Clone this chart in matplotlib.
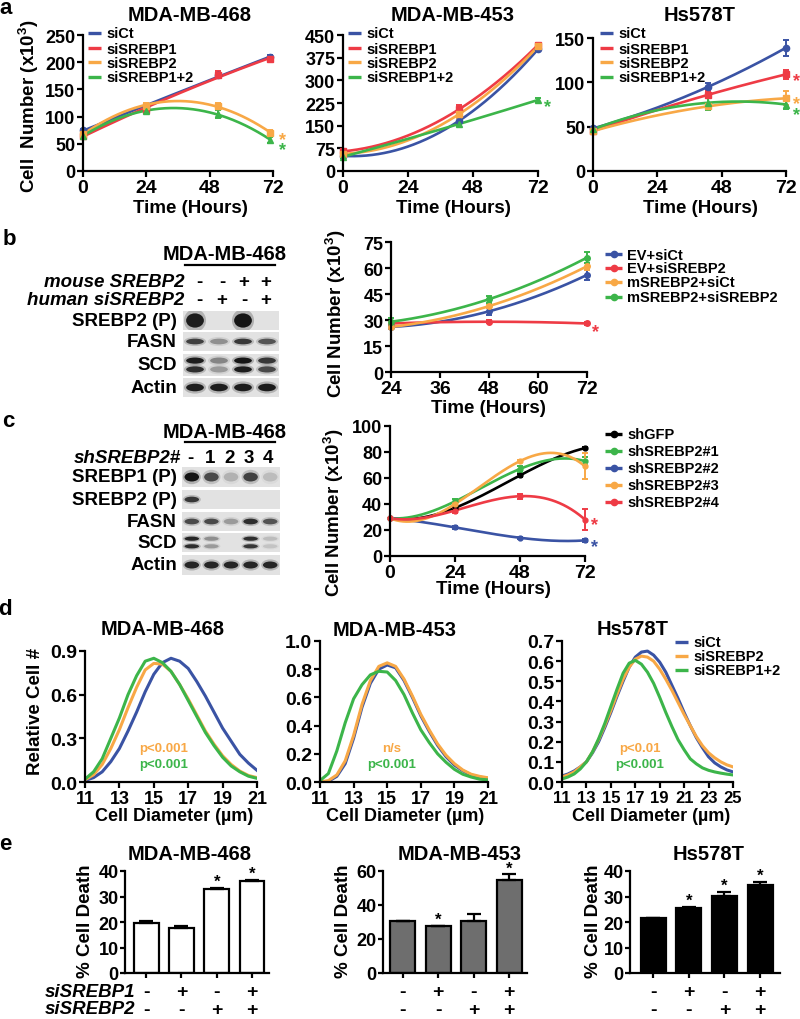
import numpy as np
import matplotlib
matplotlib.use('Agg')
import matplotlib.pyplot as plt
from matplotlib.patches import Ellipse
from matplotlib.transforms import blended_transform_factory

plt.rcParams['font.family'] = ['Liberation Sans', 'DejaVu Sans']
plt.rcParams['font.weight'] = 'bold'
plt.rcParams['mathtext.fontset'] = 'custom'
plt.rcParams['mathtext.rm'] = 'Liberation Sans:bold'
plt.rcParams['mathtext.bf'] = 'Liberation Sans:bold'
plt.rcParams['mathtext.it'] = 'Liberation Sans:bold:italic'

BLUE, RED, ORANGE, GREEN = '#3a53a4', '#ee3b45', '#f8a846', '#3cb54a'

# ------------------------------------------------------------------ data
# panel a : cell number (x10^3) vs time
a_labels = ['siCt', 'siSREBP1', 'siSREBP2', 'siSREBP1+2']
a_titles = ['MDA-MB-468', 'MDA-MB-453', 'Hs578T']
a468_t = [0, 24, 51, 71]
a468_siCt = [75, 118, 176, 209]
a468_siSREBP1 = [65, 112, 177, 206]
a468_siSREBP2 = [68, 120, 120, 70]
a468_siSREBP12 = [65, 110, 105, 57]
a468_err = [[3, 3, 5, 4], [3, 3, 6, 4], [3, 5, 5, 5], [3, 4, 7, 5]]
a453_t = [0, 43, 72]
a453_siCt = [50, 167, 403]
a453_siSREBP1 = [65, 205, 417]
a453_siSREBP2 = [57, 189, 412]
a453_siSREBP12 = [47, 156, 235]
a453_err = [[4, 10, 6], [4, 14, 6], [4, 12, 6], [3, 8, 6]]
aHs_t = [0, 43, 72]
aHs_siCt = [48, 95, 139]
aHs_siSREBP1 = [45, 86, 109]
aHs_siSREBP2 = [45, 73, 82]
aHs_siSREBP12 = [47, 77, 75]
aHs_err = [[2, 4, 9], [2, 4, 5], [2, 3, 8], [2, 8, 5]]
a468_yticks = [0, 50, 100, 150, 200, 250]
a453_yticks = [0, 75, 150, 225, 300, 375, 450]
aHs_yticks = [0, 50, 100, 150]
a_xticks = [0, 24, 48, 72]
# significance stars: (series index, x, y)
a468_stars = [(2, 75.5, 69), (3, 75.5, 50)]
a453_stars = [(3, 75.5, 232)]
aHs_stars = [(1, 76, 109), (2, 76, 83), (3, 76, 70)]

# panel b
b_labels = ['EV+siCt', 'EV+siSREBP2', 'mSREBP2+siCt', 'mSREBP2+siSREBP2']
b_t = [24, 48, 72]
b_EV_siCt = [26, 35, 56]
b_EV_siSREBP2 = [28, 29, 28]
b_m_siCt = [26, 38, 61]
b_m_siSREBP2 = [29, 42, 66]
b_err = [[1, 2, 3], [1, 1, 1], [1, 1, 2], [2, 2, 3]]
b_xticks = [24, 36, 48, 60, 72]
b_yticks = [0, 15, 30, 45, 60, 75]
b_stars = [(1, 74, 27)]
b_blot_labels = ['SREBP2 (P)', 'FASN', 'SCD', 'Actin']
b_mouse_SREBP2 = ['-', '-', '+', '+']
b_human_siSREBP2 = ['-', '+', '-', '+']
b_band_SREBP2 = [0.95, 0.0, 1.0, 0.0]
b_band_FASN = [0.75, 0.35, 0.8, 0.65]
b_band_SCD_upper = [0.95, 0.4, 1.0, 0.8]
b_band_SCD_lower = [0.85, 0.3, 0.95, 0.7]
b_band_Actin = [0.95, 0.95, 0.95, 0.95]

# panel c
c_labels = ['shGFP', 'shSREBP2#1', 'shSREBP2#2', 'shSREBP2#3', 'shSREBP2#4']
c_t = [0, 24, 48, 72]
c_shGFP = [29, 37, 62, 83]
c_sh1 = [29, 42, 67, 73]
c_sh2 = [29, 22, 14, 12]
c_sh3 = [29, 40, 73, 69]
c_sh4 = [29, 35, 46, 28]
c_err = [[0, 1, 1, 1], [0, 2, 2, 3], [0, 1, 1, 1], [0, 1, 1, 10], [0, 2, 2, 8]]
c_xticks = [0, 24, 48, 72]
c_yticks = [0, 20, 40, 60, 80, 100]
c_stars = [(4, 75.5, 28.5), (2, 75.5, 12)]
c_blot_labels = ['SREBP1 (P)', 'SREBP2 (P)', 'FASN', 'SCD', 'Actin']
c_lanes = ['-', '1', '2', '3', '4']
c_band_SREBP1 = [1.0, 0.7, 0.2, 0.75, 0.15]
c_band_SREBP2 = [0.8, 0.0, 0.0, 0.0, 0.0]
c_band_FASN = [0.7, 0.7, 0.3, 0.85, 0.65]
c_band_SCD_upper = [0.9, 0.35, 0.0, 0.85, 0.15]
c_band_SCD_lower = [0.85, 0.3, 0.0, 0.8, 0.12]
c_band_Actin = [0.9, 0.9, 0.9, 0.9, 0.9]

# panel d : relative cell # vs diameter
d_labels = ['siCt', 'siSREBP2', 'siSREBP1+2']
d_x21 = [11, 11.5, 12, 12.5, 13, 13.5, 14, 14.5, 15, 15.5, 16, 16.5, 17, 17.5,
         18, 18.5, 19, 19.5, 20, 20.5, 21]
d_x25 = [11, 11.5, 12, 12.5, 13, 13.5, 14, 14.5, 15, 15.5, 16, 16.5, 17, 17.5,
         18, 18.5, 19, 19.5, 20, 20.5, 21, 21.5, 22, 22.5, 23, 23.5, 24, 24.5, 25]
d468_siCt = [0.01, 0.03, 0.07, 0.14, 0.23, 0.35, 0.48, 0.62, 0.74, 0.82, 0.85,
             0.83, 0.78, 0.69, 0.59, 0.48, 0.37, 0.28, 0.19, 0.13, 0.08]
d468_siSREBP2 = [0.015, 0.05, 0.12, 0.23, 0.36, 0.51, 0.65, 0.77, 0.815, 0.81, 0.76,
                 0.67, 0.57, 0.46, 0.35, 0.26, 0.18, 0.12, 0.075, 0.045, 0.03]
d468_siSREBP12 = [0.02, 0.07, 0.16, 0.30, 0.44, 0.60, 0.73, 0.83, 0.85, 0.82, 0.76,
                  0.67, 0.56, 0.45, 0.34, 0.25, 0.17, 0.11, 0.07, 0.04, 0.025]
d453_siCt = [0.0, 0.005, 0.04, 0.13, 0.31, 0.53, 0.70, 0.80, 0.83, 0.81, 0.72,
             0.60, 0.47, 0.36, 0.26, 0.18, 0.12, 0.08, 0.05, 0.035, 0.025]
d453_siSREBP2 = [0.0, 0.01, 0.05, 0.15, 0.33, 0.55, 0.72, 0.82, 0.845, 0.82, 0.73,
                 0.61, 0.48, 0.37, 0.27, 0.19, 0.13, 0.085, 0.055, 0.04, 0.03]
d453_siSREBP12 = [0.01, 0.06, 0.22, 0.42, 0.59, 0.69, 0.76, 0.785, 0.78, 0.72, 0.62,
                  0.49, 0.37, 0.28, 0.20, 0.14, 0.09, 0.055, 0.035, 0.02, 0.015]
dHs_siCt = [0.03, 0.04, 0.055, 0.075, 0.10, 0.145, 0.20, 0.27, 0.345, 0.425, 0.50,
            0.57, 0.62, 0.645, 0.65, 0.63, 0.595, 0.545, 0.48, 0.415, 0.345, 0.28,
            0.22, 0.17, 0.125, 0.095, 0.075, 0.06, 0.05]
dHs_siSREBP2 = [0.025, 0.035, 0.05, 0.075, 0.10, 0.15, 0.21, 0.28, 0.355, 0.435, 0.51,
                0.57, 0.61, 0.625, 0.62, 0.60, 0.56, 0.51, 0.455, 0.395, 0.335, 0.28,
                0.225, 0.18, 0.145, 0.12, 0.10, 0.085, 0.075]
dHs_siSREBP12 = [0.015, 0.025, 0.04, 0.065, 0.10, 0.15, 0.215, 0.29, 0.375, 0.46, 0.54,
                 0.59, 0.604, 0.585, 0.545, 0.49, 0.42, 0.345, 0.275, 0.21, 0.16, 0.115,
                 0.09, 0.07, 0.058, 0.05, 0.044, 0.039, 0.035]
d468_yticks = [0.0, 0.3, 0.6, 0.9]
d453_yticks = [0.0, 0.2, 0.4, 0.6, 0.8, 1.0]
dHs_yticks = [0.0, 0.1, 0.2, 0.3, 0.4, 0.5, 0.6, 0.7]
d21_xticks = [11, 13, 15, 17, 19, 21]
d25_xticks = [11, 13, 15, 17, 19, 21, 23, 25]
d_pvals = [('p<0.001', 'p<0.001'), ('n/s', 'p<0.001'), ('p<0.01', 'p<0.001')]

# panel e : % cell death
e_titles = ['MDA-MB-468', 'MDA-MB-453', 'Hs578T']
e468 = [19.5, 17.5, 33.0, 36.0]
e468_err = [0.7, 1.0, 0.3, 0.5]
e453 = [30.5, 27.5, 30.5, 54.5]
e453_err = [0.3, 0.3, 4.0, 3.5]
eHs = [21.5, 25.5, 30.3, 34.5]
eHs_err = [0.2, 0.3, 1.6, 1.3]
e468_sig = [False, False, True, True]
e453_sig = [False, True, False, True]
eHs_sig = [False, True, True, True]
e_siSREBP1 = ['-', '+', '-', '+']
e_siSREBP2 = ['-', '-', '+', '+']
e468_yticks = [0, 10, 20, 30, 40]
e453_yticks = [0, 20, 40, 60]
eHs_yticks = [0, 10, 20, 30, 40]

# ------------------------------------------------------------------ figure
W, H = 800, 1020
fig = plt.figure(figsize=(W / 100, H / 100), dpi=100)


def px_axes(l, t, r, b):
    return fig.add_axes([l / W, 1 - b / H, (r - l) / W, (b - t) / H])


def style(ax, xfs=14, yfs=13, tl=4):
    for s in ('top', 'right'):
        ax.spines[s].set_visible(False)
    for s in ('left', 'bottom'):
        ax.spines[s].set_linewidth(1.6)
    ax.tick_params(width=1.6, length=tl, pad=1.5)
    ax.tick_params(axis='x', labelsize=xfs)
    ax.tick_params(axis='y', labelsize=yfs)
    ax.patch.set_alpha(0)


ov = fig.add_axes([0, 0, 1, 1])
ov.set_xlim(0, W)
ov.set_ylim(H, 0)
ov.axis('off')
ov.set_zorder(10)


def T(x, y, s, fs=13.5, ha='center', va='baseline', **kw):
    ov.text(x, y, s, fontsize=fs, ha=ha, va=va, fontweight='bold', **kw)


def legend_px(x0, x1, xt, ys, labels, colors, fs, marker=False):
    for y, lab, c in zip(ys, labels, colors):
        ov.plot([x0, x1], [y, y], color=c, lw=2.4, solid_capstyle='butt')
        if marker:
            ov.plot([(x0 + x1) / 2], [y], 'o', color=c, ms=4.5)
        ov.text(xt, y + 0.5, lab, fontsize=fs, ha='left', va='center', fontweight='bold')


def growth(ax, t, series, errs, colors, markers, deg, ms=4.5):
    tt = np.linspace(t[0], t[-1], 300)
    for y, e, c, m in zip(series, errs, colors, markers):
        coef = np.polyfit(t, y, deg)
        ax.plot(tt, np.polyval(coef, tt), color=c, lw=1.9, clip_on=False)
        cont = ax.errorbar(t, y, yerr=e, fmt=m, color=c, ms=ms, capsize=2.5,
                           elinewidth=1.4, capthick=1.4)
        for art in cont.get_children():
            art.set_clip_on(False)


def star(ax, x, y, c, fs=13):
    ax.annotate('*', xy=(x, y), xytext=(0, -7.5), textcoords='offset points',
                ha='center', va='baseline', color=c, fontsize=fs,
                fontweight='bold', annotation_clip=False)


# ---------------- panel a
T(6, 14, 'a', fs=16)
a_colors = [BLUE, RED, ORANGE, GREEN]
a_markers = ['o', 's', 's', '^']
a_specs = [
    (px_axes(83, 36, 273, 172), a468_t,
     [a468_siCt, a468_siSREBP1, a468_siSREBP2, a468_siSREBP12], a468_err,
     a468_yticks, a468_stars, 190, (88, 101, 106)),
    (px_axes(343, 36, 538, 172), a453_t,
     [a453_siCt, a453_siSREBP1, a453_siSREBP2, a453_siSREBP12], a453_err,
     a453_yticks, a453_stars, 453, (348, 361, 366)),
    (px_axes(593, 39, 786, 172), aHs_t,
     [aHs_siCt, aHs_siSREBP1, aHs_siSREBP2, aHs_siSREBP12], aHs_err,
     aHs_yticks, aHs_stars, 700, (600, 613, 618)),
]
for k, (ax, t, ser, err, yt, stars, cx, lg) in enumerate(a_specs):
    growth(ax, t, ser, err, a_colors, a_markers, 2)
    ax.set_xlim(0, 72)
    ax.set_ylim(yt[0], yt[-1])
    ax.set_xticks(a_xticks)
    ax.set_yticks(yt)
    style(ax)
    for si, sx, sy in stars:
        star(ax, sx, sy, a_colors[si])
    T(cx, 21, a_titles[k], fs=14.5)
    T(cx, 213, 'Time (Hours)', fs=13.5)
    legend_px(lg[0], lg[1], lg[2], [34, 49, 63, 78], a_labels, a_colors, 10.5)
T(29, 106, r'Cell  Number (x10$^{3}$)', fs=13.5, va='center', rotation=90)

# ---------------- blots
def blot_row(l, t, r, b, bands, h):
    ax = px_axes(l, t, r, b)
    n = len(bands[0])
    ax.set_xlim(0, n)
    ax.set_ylim(0, 1)
    ax.set_xticks([])
    ax.set_yticks([])
    for s in ax.spines.values():
        s.set_visible(False)
    ax.set_facecolor('#e2e2e2')
    ys = [0.5] if len(bands) == 1 else [0.7, 0.3]
    for yc, vals in zip(ys, bands):
        for i, v in enumerate(vals):
            if v <= 0:
                continue
            ax.add_patch(Ellipse((i + 0.5, yc), 0.92, h * 1.6, color='black',
                                 alpha=0.22 * v, lw=0))
            ax.add_patch(Ellipse((i + 0.5, yc), 0.74, h, color='black',
                                 alpha=0.88 * v, lw=0))
    return ax


# panel b blot
T(9, 245, 'b', fs=16)
T(225, 260, 'MDA-MB-468', fs=14.5)
ov.plot([185, 275], [266, 266], color='black', lw=1.6)
T(184, 287, 'mouse SREBP2', fs=13.5, ha='right', style='italic')
T(184, 305, 'human siSREBP2', fs=13.5, ha='right', style='italic')
for xs, s1, s2 in zip([199, 222, 244, 266], b_mouse_SREBP2, b_human_siSREBP2):
    T(xs, 287, s1, fs=13.5)
    T(xs, 305, s2, fs=13.5)
b_rows_px = [(312, 331), (333, 352), (355, 377), (379, 398)]
b_bands = [([b_band_SREBP2], 0.75), ([b_band_FASN], 0.3),
           ([b_band_SCD_upper, b_band_SCD_lower], 0.28), ([b_band_Actin], 0.4)]
for (t, b), (bands, h), lab in zip(b_rows_px, b_bands, b_blot_labels):
    blot_row(183, t, 279, b, bands, h)
    T(177, (t + b) / 2, lab, fs=13.5, ha='right', va='center')

# panel b chart
axb = px_axes(391, 243, 587, 373)
b_colors = [BLUE, RED, ORANGE, GREEN]
growth(axb, b_t, [b_EV_siCt, b_EV_siSREBP2, b_m_siCt, b_m_siSREBP2], b_err,
       b_colors, ['o'] * 4, 2, ms=4)
axb.set_xlim(24, 72)
axb.set_ylim(0, 75)
axb.set_xticks(b_xticks)
axb.set_yticks(b_yticks)
style(axb)
for si, sx, sy in b_stars:
    star(axb, sx, sy, b_colors[si])
T(336, 314, r'Cell Number (x10$^{3}$)', fs=13.5, va='center', rotation=90)
T(488, 413, 'Time (Hours)', fs=13.5)
legend_px(605, 622, 627, [255, 269, 283, 298], b_labels, b_colors, 10.5, marker=True)

# panel c blot
T(8, 427, 'c', fs=16)
T(225, 438, 'MDA-MB-468', fs=14.5)
ov.plot([185, 275], [443, 443], color='black', lw=1.6)
T(181, 463, 'shSREBP2#', fs=13.5, ha='right', style='italic')
for xs, s in zip([190, 210, 230, 249, 268], c_lanes):
    T(xs, 463, s, fs=13.5)
c_rows_px = [(468, 488), (491, 510), (513, 532), (534, 553), (556, 576)]
c_bands = [([c_band_SREBP1], 0.45), ([c_band_SREBP2], 0.3), ([c_band_FASN], 0.3),
           ([c_band_SCD_upper, c_band_SCD_lower], 0.22), ([c_band_Actin], 0.35)]
for (t, b), (bands, h), lab in zip(c_rows_px, c_bands, c_blot_labels):
    blot_row(182, t, 280, b, bands, h)
    T(177, (t + b) / 2, lab, fs=13.5, ha='right', va='center')

# panel c chart
axc = px_axes(390, 427, 585, 557)
c_colors = ['black', GREEN, BLUE, ORANGE, RED]
growth(axc, c_t, [c_shGFP, c_sh1, c_sh2, c_sh3, c_sh4], c_err, c_colors,
       ['o'] * 5, 3, ms=3.5)
axc.set_xlim(0, 72)
axc.set_ylim(0, 100)
axc.set_xticks(c_xticks)
axc.set_yticks(c_yticks)
style(axc)
for si, sx, sy in c_stars:
    star(axc, sx, sy, c_colors[si])
T(334, 513, r'Cell Number (x10$^{3}$)', fs=13.5, va='center', rotation=90)
T(493, 594, 'Time (Hours)', fs=13.5)
legend_px(605, 622, 627, [435, 452, 469, 486, 503], c_labels, c_colors, 10.5, marker=True)

# ---------------- panel d
T(5, 615, 'd', fs=16)
d_colors = [BLUE, ORANGE, GREEN]
d_specs = [
    (px_axes(85, 652, 257, 783), d_x21, [d468_siCt, d468_siSREBP2, d468_siSREBP12],
     d468_yticks, d21_xticks, 163, 635, 164, 174),
    (px_axes(320, 642, 488, 783), d_x21, [d453_siCt, d453_siSREBP2, d453_siSREBP12],
     d453_yticks, d21_xticks, 395, 636, 392, 405),
    (px_axes(562, 642, 733, 783), d_x25, [dHs_siCt, dHs_siSREBP2, dHs_siSREBP12],
     dHs_yticks, d25_xticks, 633, 635, 640, 651),
]
for k, (ax, xs, ser, yt, xt, tx, ty, px_, lx) in enumerate(d_specs):
    for y, c in zip(ser, d_colors):
        ax.plot(xs, y, color=c, lw=2.2)
    ax.set_xlim(xs[0], xs[-1])
    ax.set_ylim(yt[0], yt[-1])
    ax.set_xticks(xt)
    ax.set_yticks(yt)
    ax.set_yticklabels([f'{v:.1f}' for v in yt])
    style(ax, xfs=13 if k < 2 else 12, yfs=14)
    T(tx, ty, a_titles[k], fs=14.5)
    T(px_, 749, d_pvals[k][0], fs=9.5, color=ORANGE, va='center')
    T(px_, 765, d_pvals[k][1], fs=9.5, color=GREEN, va='center')
    T(lx, 821, 'Cell Diameter (µm)', fs=13)
T(35, 711, 'Relative Cell #', fs=13.5, va='center', rotation=90)
legend_px(675, 688, 693, [643, 657, 671], d_labels, d_colors, 10.5)

# ---------------- panel e
T(5, 850, 'e', fs=16)
e_specs = [
    (px_axes(125, 872, 269, 974), e468, e468_err, e468_sig, 'white', e468_yticks,
     (-0.6, 3.48), 190, 86),
    (px_axes(383, 872, 527, 974), e453, e453_err, e453_sig, '#6e6e6e', e453_yticks,
     (-0.55, 3.5), 460, 343),
    (px_axes(630, 872, 780, 974), eHs, eHs_err, eHs_sig, 'black', eHs_yticks,
     (-0.65, 3.56), 709, 594),
]
for k, (ax, vals, errs, sig, col, yt, xl, tx, ylx) in enumerate(e_specs):
    x = np.arange(len(vals))
    ax.bar(x, vals, width=0.7, color=col, edgecolor='black', linewidth=1.6, zorder=2)
    eb = ax.errorbar(x, vals, yerr=[np.zeros(len(vals)), errs], fmt='none',
                     ecolor='black', elinewidth=1.6, capsize=5, capthick=1.6, zorder=3)
    for art in eb.get_children():
        art.set_clip_on(False)
    ax.set_xlim(*xl)
    ax.set_ylim(yt[0], yt[-1])
    ax.set_xticks(x)
    ax.set_xticklabels([])
    ax.set_yticks(yt)
    style(ax, yfs=13, tl=3.5)
    ax.tick_params(axis='y', pad=1)
    for i in range(len(vals)):
        if sig[i]:
            ax.annotate('*', xy=(i, vals[i] + errs[i]), xytext=(0, 1.5),
                        textcoords='offset points', ha='center', va='baseline',
                        fontsize=12, fontweight='bold', annotation_clip=False)
    tr = blended_transform_factory(ax.transData, ax.transAxes)
    for i in range(len(vals)):
        ax.text(i, -0.186, e_siSREBP1[i], transform=tr, ha='center', va='center',
                fontsize=14, fontweight='bold')
        ax.text(i, -0.353, e_siSREBP2[i], transform=tr, ha='center', va='center',
                fontsize=14, fontweight='bold')
    T(tx, 860, e_titles[k], fs=14.5)
    T(ylx, 921, '% Cell Death', fs=13.5, va='center', rotation=90)
T(45, 993, 'siSREBP1', fs=13.5, ha='left', va='center', style='italic')
T(45, 1010, 'siSREBP2', fs=13.5, ha='left', va='center', style='italic')

fig.savefig('out.png', dpi=100, facecolor='white')
